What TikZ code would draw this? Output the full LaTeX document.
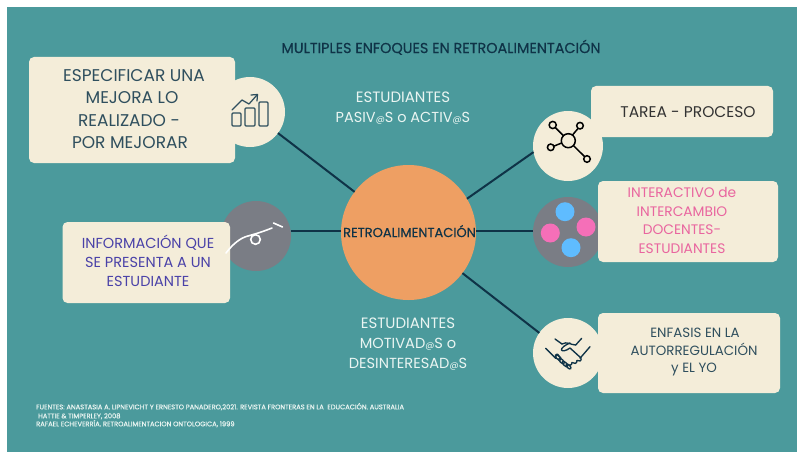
\documentclass[tikz,border=0pt]{standalone}
\usepackage{fontspec}
\setmainfont{Poppins}
\newfontfamily\semi[FakeBold=0.35]{Poppins}
\definecolor{teal0}{HTML}{4B9A9C}
\definecolor{cream}{HTML}{F4EDD9}
\definecolor{navy}{HTML}{0F3347}
\definecolor{slate}{HTML}{2F4F5E}
\definecolor{orange0}{HTML}{EE9F63}
\definecolor{grey0}{HTML}{7A7D85}
\definecolor{pink0}{HTML}{F56FB8}
\definecolor{pinktxt}{HTML}{E9659F}
\definecolor{blue0}{HTML}{5FBCFF}
\definecolor{violet0}{HTML}{4A42A8}
\definecolor{white0}{HTML}{EAF5F2}
\tikzset{
  x=1pt,y=-1pt,
  boxnode/.style={fill=cream,draw=none,rounded corners=5pt,inner sep=0pt,outer sep=0pt},
  disc/.style={circle,draw=none,inner sep=0pt,outer sep=0pt,minimum size=70pt},
  link/.style={draw=navy,line width=2pt},
  txt/.style={inner sep=0pt,anchor=base},
  ltxt/.style={inner sep=0pt,anchor=base west},
  icon/.style={draw=slate,line width=1.25pt,line cap=round,line join=round},
  shake/.style={draw=navy,line width=1.35pt,line cap=round,line join=round},
  net/.style={draw=black,line width=1.5pt},
  squiggle/.style={white,line width=1.6pt,line cap=round},
}
\newcommand{\fs}[1]{\fontsize{#1}{#1}\selectfont}
\newcommand{\bx}[6]{\node[boxnode,minimum width=#4-#2,minimum height=#5-#3,#6] (#1) at ({(#2+#4)/2},{(#3+#5)/2}) {};}
% name, x, y of cap centre, size, colour, text
\newcommand{\tl}[6]{\node[txt,text=#5,font=\fs{#4}] (#1) at (#2,{#3+0.35*#4}) {#6};}
\newcommand{\fl}[4]{\node[ltxt,text=white0,font=\fs{6.7}\semi] (#1) at (#2,{#3+2.3}) {#4};}
\newcommand{\at}{{\fontsize{9}{9}\selectfont @}}
\begin{document}
\begin{tikzpicture}
\useasboundingbox (0,0) rectangle (798,452);
\fill[white] (0,0) rectangle (798,452);
\fill[teal0] (7,7) rectangle (797,452);

% circles behind boxes
\node[disc,fill=cream] (c1) at (250,112) {};
\node[disc,fill=grey0] (c2) at (256,236) {};
\node[disc,fill=grey0] (c4) at (568,232) {};
\node[disc,fill=cream] (c5) at (568,353) {};

\bx{b1}{29}{57}{235}{163}{}
\bx{b2}{62.5}{222}{230}{303}{}
\bx{b3}{591}{86}{773}{137}{}
\bx{b4}{598}{181}{778}{262}{}
\bx{b5}{598}{313}{780}{393}{}

\node[disc,fill=cream] (c3) at (568,146) {};
\node[circle,fill=orange0,inner sep=0pt,outer sep=0pt,minimum size=135pt] (c) at (408.5,232.5) {};

% connectors
\draw[link] (c1.-37) -- (c.143);
\draw[link] ([yshift=1.5pt]c.west) -- ([yshift=1.5pt]c.west -| c2.east);
\draw[link] (c.30.5) -- (c3.190);
\draw[link] ([yshift=1.5pt]c.east) -- ([yshift=1.5pt]c.east -| c4.west);
\draw[link] (c.-37) -- (c5.145);

% texts
\tl{title}{441}{48}{14.4}{navy}{\semi MULTIPLES ENFOQUES EN RETROALIMENTACIÓN}
\tl{ctext}{409.5}{232.5}{13}{navy}{\semi RETROALIMENTACIÓN}

\tl{s1}{403}{97}{15}{white0}{ESTUDIANTES}
\tl{s2}{403}{117}{14.5}{white0}{PASIV\at S o ACTIV\at S}
\tl{m1}{408}{323}{15}{white0}{ESTUDIANTES}
\tl{m2}{408}{343}{14.6}{white0}{MOTIVAD\at S o}
\tl{m3}{408}{363}{14.6}{white0}{DESINTERESAD\at S}

\tl{t1a}{134}{76}{17}{slate}{ESPECIFICAR UNA}
\tl{t1b}{132}{98}{17}{slate}{MEJORA LO}
\tl{t1c}{129}{121}{17}{slate}{REALIZADO -}
\tl{t1d}{130}{143}{17}{slate}{POR MEJORAR}

\tl{t2a}{148}{243}{14.5}{violet0}{INFORMACIÓN QUE}
\tl{t2b}{148}{262}{14.5}{violet0}{SE PRESENTA A UN}
\tl{t2c}{148}{281}{14.5}{violet0}{ESTUDIANTE}

\tl{t3}{688}{112}{15.5}{black!80}{TAREA - PROCESO}

\tl{t4a}{682}{193}{13.8}{pinktxt}{INTERACTIVO de}
\tl{t4b}{682}{212}{13.8}{pinktxt}{INTERCAMBIO}
\tl{t4c}{682}{230}{13.8}{pinktxt}{DOCENTES-}
\tl{t4d}{682}{249}{13.8}{pinktxt}{ESTUDIANTES}

\tl{t5a}{695}{333}{13.4}{slate}{ENFASIS EN LA}
\tl{t5b}{694}{351}{13.4}{slate}{AUTORREGULACIÓN}
\tl{t5c}{694}{368}{13.4}{slate}{y EL YO}

\fl{f1}{36}{407}{FUENTES: ANASTASIA A. LIPNEVICHT Y ERNESTO PANADERO,2021. REVISTA FRONTERAS EN LA \ EDUCACIÓN. AUSTRALIA}
\fl{f2}{38}{416}{HATTIE \& TIMPERLEY, 2008}
\fl{f3}{36}{424}{RAFAEL ECHEVERRÍA. RETROALIMENTACION ONTOLOGICA, 1999}

% chart icon
\draw[icon,rounded corners=1pt] (232,113) rectangle (241,126);
\draw[icon,rounded corners=1pt] (245,108) rectangle (255,126);
\draw[icon,rounded corners=1pt] (259,102) rectangle (268,126);
\draw[icon] (232,110) -- (242,100) -- (249,104) -- (257,95);
\draw[icon] (251,95) -- (257.5,94.5) -- (257,101);

% squiggle
\draw[squiggle] (226,253) .. controls (233,244) and (240,238) .. (248,236)
  .. controls (255,234) and (262,232) .. (272,228);
\draw[squiggle] (255.5,239.5) circle (4.8);
\draw[squiggle] (273.5,223) -- (282.5,227);

% network icon
\draw[net] (568.3,140.7) circle (7);
\draw[net] (552.7,125) circle (3.6);
\draw[net] (580,125.7) circle (3.3);
\draw[net] (550.7,147.3) circle (3.3);
\draw[net] (587,159) circle (3.3);
\draw[net] (555.3,127.6) -- (563.4,135.7);
\draw[net] (578,128.5) -- (572.5,135);
\draw[net] (553.8,146.2) -- (561.6,143);
\draw[net] (573.4,145.6) -- (584.6,156.6);

% dots
\fill[blue0] (565,211.7) circle (9.5);
\fill[pink0] (550.3,233) circle (9.5);
\fill[pink0] (586,227) circle (9.5);
\fill[blue0] (571,247.7) circle (9.5);

% handshake
\begin{scope}[shake]
\draw (545.7,348.3) -- (555.7,358.3);
\draw (590,346.7) -- (580,358.3);
\draw (555,339) -- (562,344);
\draw (581.7,338.3) -- (575.7,345);
\draw (562,344) .. controls (567,341) and (571,345) .. (575.7,345);
\draw (570,343) .. controls (565,345) and (561,348) .. (561.5,350) .. controls (562,351.5) and (566,351) .. (570,348)
  -- (581,358) .. controls (582,361) and (579,362) .. (577,360.5);
\draw (577,360.5) .. controls (577,364) and (574,364) .. (572,362.5)
  .. controls (572,366) and (569,365.5) .. (566.5,364);
\draw (555.7,358.3) .. controls (556,354) and (557,352.5) .. (559,356) -- (561,358);
\draw[rotate around={45:(558,357.5)}] (558,357.5) ellipse (1.6 and 3.6);
\draw[rotate around={45:(561.5,361)}] (561.5,361) ellipse (1.6 and 3.6);
\draw[rotate around={45:(565,364)}] (565,364) ellipse (1.6 and 3.6);
\draw[rotate around={45:(568.5,366.5)}] (568.5,366.5) ellipse (1.5 and 3.2);
\end{scope}
\end{tikzpicture}
\end{document}
